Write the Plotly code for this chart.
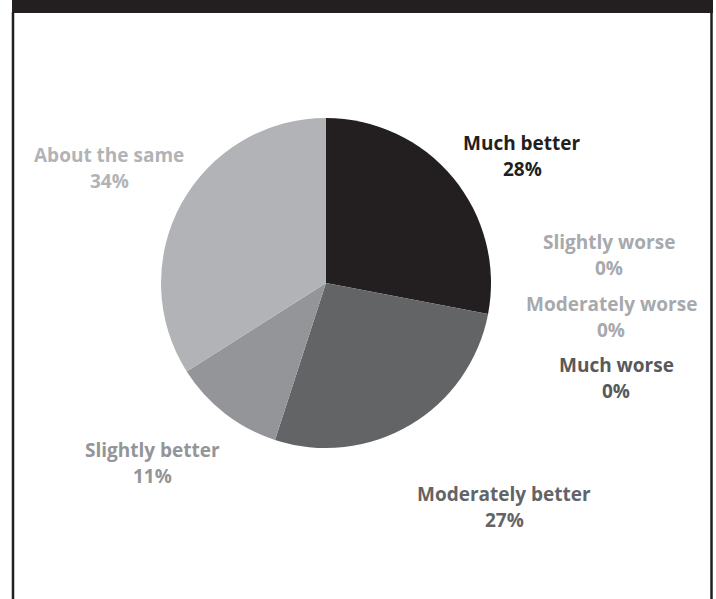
import plotly.graph_objects as go

# ---- data ----
categories = ["Much better", "Slightly worse", "Moderately worse", "Much worse",
              "Moderately better", "Slightly better", "About the same"]
values = [28, 0, 0, 0, 27, 11, 34]
slice_colors = ["#231f20", "#a7a9ac", "#a7a9ac", "#58595b", "#636466", "#939598", "#b1b3b6"]
label_colors = ["#231f20", "#a7a9ac", "#a7a9ac", "#58595b", "#636466", "#939598", "#b1b3b6"]
# label centre positions in pixels (x, y from top)
label_pos = [(522, 156), (609, 255), (611, 317), (616, 378), (504, 507), (152, 463), (109, 168)]

W, H = 716, 599
cx, cy, r = 326, 283, 165
line_gap = 13  # half the distance between the two label lines, px

fig = go.Figure(go.Pie(
    labels=categories, values=values, sort=False, direction="clockwise",
    rotation=0, marker=dict(colors=slice_colors, line=dict(width=0)),
    textinfo="none", hoverinfo="label+percent", showlegend=False,
    domain=dict(x=[(cx - r) / W, (cx + r) / W], y=[(H - cy - r) / H, (H - cy + r) / H]),
))

total = sum(values)
for cat, v, col, (px, py) in zip(categories, values, label_colors, label_pos):
    for txt, dy in ((cat, -line_gap), (f"{round(100 * v / total)}%", line_gap)):
        fig.add_annotation(
            x=px / W, y=1 - (py + dy) / H, xref="paper", yref="paper",
            text=f"<b>{txt}</b>",
            showarrow=False, align="center", xanchor="center", yanchor="middle",
            font=dict(family="Open Sans", size=19, color=col),
        )

shapes = [
    dict(type="rect", xref="paper", yref="paper", x0=12 / W, x1=713 / W, y0=1 - 13 / H, y1=1,
         fillcolor="#231f20", line=dict(width=0), layer="above"),
    dict(type="line", xref="paper", yref="paper", x0=13 / W, x1=13 / W, y0=0, y1=1 - 12 / H,
         line=dict(color="#231f20", width=2.5)),
    dict(type="line", xref="paper", yref="paper", x0=711.5 / W, x1=711.5 / W, y0=0, y1=1 - 12 / H,
         line=dict(color="#231f20", width=2.5)),
]

fig.update_layout(
    width=W, height=H, margin=dict(l=0, r=0, t=0, b=0),
    paper_bgcolor="white", plot_bgcolor="white", shapes=shapes,
)
fig.write_html("out.html", config={"displayModeBar": False},
               post_script="document.body.style.margin='0';document.body.style.overflow='hidden';")
